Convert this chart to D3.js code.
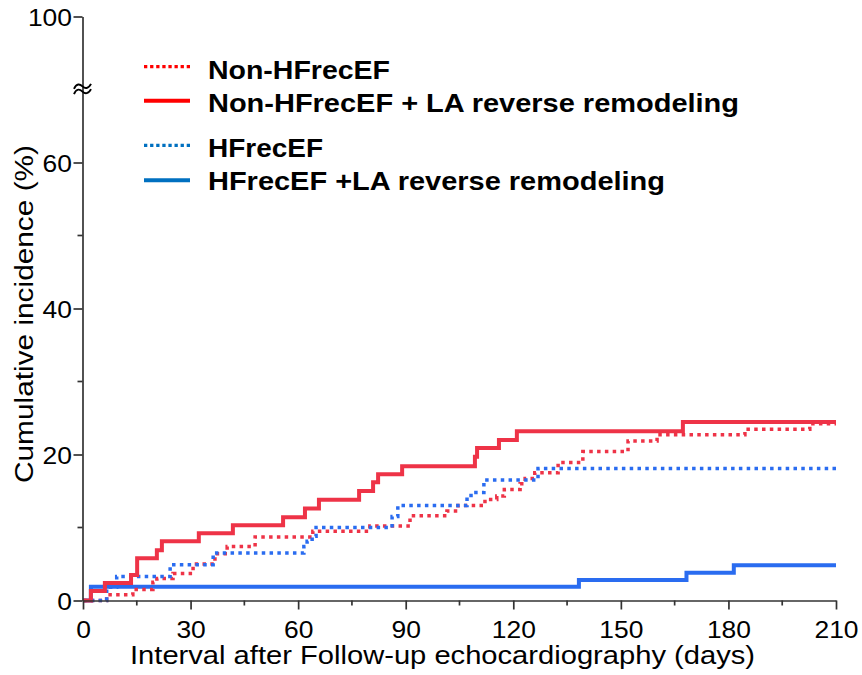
<!DOCTYPE html>
<html>
<head>
<meta charset="utf-8">
<script src="https://cdn.jsdelivr.net/npm/d3@7"></script>
<style>
  html, body { margin: 0; padding: 0; background: #fff; }
  svg { display: block; }
  text { font-family: "Liberation Sans", Arial, sans-serif; fill: #000; }
</style>
</head>
<body>
<svg id="chart" width="862" height="675"></svg>
<script>
// ---- data (days, cumulative incidence %) ----
const nonHFrecEF = [
  [0,0],[6.6,0.8],[13.9,1.5],[19.5,2.5],[20.6,3.0],[25.1,3.7],[30.7,5.0],[36.8,6.4],
  [40.2,7.4],[48.0,8.7],[64.1,9.5],[80.0,10.2],[91.2,11.6],[101.5,12.25],[104.6,13.0],
  [112.1,13.85],[115.4,14.3],[117.5,15.2],[121.9,16.0],[123.3,16.7],[126.0,17.5],
  [132.5,18.9],[139.4,20.4],[152.0,21.85],[160.1,22.7],[184.6,23.45],[202.7,24.2],[210,24.2]
];
const nonHFrecEF_LA = [
  [0,0],[2.2,1.3],[6.1,2.4],[13.4,3.5],[15.1,5.8],[20.6,6.9],[22.0,8.1],[32.3,9.2],
  [41.8,10.3],[55.8,11.4],[61.9,12.6],[65.8,13.8],[77.0,15.0],[80.9,16.2],[82.3,17.3],
  [89.0,18.4],[109.3,19.7],[109.9,20.9],[116.0,22.0],[121.0,23.2],[167.3,24.45],[210,24.45]
];
const HFrecEF = [
  [0,0],[6.6,1.8],[9.4,3.3],[24.3,4.9],[36.3,6.5],[61.6,7.4],[62.5,8.1],[63.9,8.8],
  [65.0,10.0],[86.2,11.5],[87.8,13.0],[107.1,14.4],[108.8,14.8],[111.8,16.5],[126.9,18.07],[210,18.07]
];
const HFrecEF_LA = [
  [0,0],[2.2,1.9],[138.3,2.8],[168.3,3.8],[181.5,4.84],[210,4.84]
];

const xTicks = [0,30,60,90,120,150,180,210];
const xMinorTicks = [15,45,75,105,135,165,195];
const yTicks = [0,20,40,60,80];
const yTickLabels = ["0","20","40","60","100"];
const yMinorTicks = [10,30,50];
const legendLabels = ["Non-HFrecEF","Non-HFrecEF + LA reverse remodeling","HFrecEF","HFrecEF +LA reverse remodeling"];
const xTitle = "Interval after Follow-up echocardiography (days)";
const yTitle = "Cumulative incidence (%)";

// ---- drawing ----
const svg = d3.select("#chart");
const x = d3.scaleLinear().domain([0,210]).range([83,836]);
const y = d3.scaleLinear().domain([0,80]).range([600.5,16.5]);

const red = "#ee3347", blue = "#2a6cf0";
const axisColor = "#333";

const line = d3.line().x(d => x(d[0])).y(d => y(d[1])).curve(d3.curveStepAfter);

const series = [
  {data: HFrecEF_LA, color: blue, dash: null},
  {data: nonHFrecEF, color: red, dash: "3.5,4.3"},
  {data: HFrecEF, color: blue, dash: "3.5,4.3"},
  {data: nonHFrecEF_LA, color: red, dash: null}
];
svg.append("g").selectAll("path").data(series).join("path")
  .attr("d", d => line(d.data))
  .attr("fill", "none")
  .attr("stroke", d => d.color)
  .attr("stroke-width", d => d.dash ? 3.5 : 4)
  .attr("stroke-dasharray", d => d.dash)
  .attr("stroke-linejoin", "miter");

// x axis
const gx = svg.append("g").attr("transform", `translate(0,${y(0)})`)
  .call(d3.axisBottom(x).tickValues(xTicks).tickSize(9).tickSizeOuter(0).tickFormat(d3.format("d")));
gx.select(".domain").attr("stroke", axisColor).attr("stroke-width", 1.7);
gx.selectAll(".tick line").attr("stroke", axisColor).attr("stroke-width", 1.7);
gx.selectAll(".tick text")
  .attr("y", 37).attr("dy", null)
  .style("font-size", "24.5px")
  .attr("font-family", null)
  .attr("textLength", d => String(d).length * 14.7)
  .attr("lengthAdjust", "spacingAndGlyphs");
svg.append("g").selectAll("line").data(xMinorTicks).join("line")
  .attr("x1", d => x(d)).attr("x2", d => x(d))
  .attr("y1", y(0)).attr("y2", y(0) + 5)
  .attr("stroke", axisColor).attr("stroke-width", 1.7);

// y axis
const gy = svg.append("g").attr("transform", `translate(${x(0) - 0.5},0)`)
  .call(d3.axisLeft(y).tickValues(yTicks).tickSize(9).tickSizeOuter(0)
    .tickFormat((d, i) => yTickLabels[i]));
gy.select(".domain").attr("stroke", axisColor).attr("stroke-width", 1.7);
gy.selectAll(".tick line").attr("stroke", axisColor).attr("stroke-width", 1.7);
gy.selectAll(".tick text")
  .attr("x", -10.5).attr("dy", "0.36em")
  .style("font-size", "24.5px")
  .attr("font-family", null)
  .attr("textLength", (d, i) => yTickLabels[i].length * 14.7)
  .attr("lengthAdjust", "spacingAndGlyphs");
svg.append("g").selectAll("line").data(yMinorTicks).join("line")
  .attr("x1", x(0) - 0.5).attr("x2", x(0) - 5.5)
  .attr("y1", d => y(d)).attr("y2", d => y(d))
  .attr("stroke", axisColor).attr("stroke-width", 1.7);

// axis break mark (two tildes)
const by = 89;
const bx = x(0) - 0.5;
[-2.6, 2.6].forEach(off => {
  const c = by + off;
  svg.append("path")
    .attr("d", `M${bx-8.5},${c+2.5} C${bx-6},${c-3.5} ${bx-2.5},${c-2.5} ${bx},${c} S${bx+6},${c+2.5} ${bx+8.5},${c-2.5}`)
    .attr("fill", "none").attr("stroke", "#000").attr("stroke-width", 1.9);
});

// axis titles
svg.append("text")
  .attr("x", 442.5).attr("y", 664)
  .attr("text-anchor", "middle")
  .style("font-size", "25.5px")
  .attr("textLength", 625).attr("lengthAdjust", "spacingAndGlyphs")
  .text(xTitle);
svg.append("text")
  .attr("transform", "translate(33,314) rotate(-90)")
  .attr("text-anchor", "middle")
  .style("font-size", "25px")
  .attr("textLength", 338).attr("lengthAdjust", "spacingAndGlyphs")
  .text(yTitle);

// legend
const legendColors = ["#ff0000","#ff0000","#0070c0","#0070c0"];
const legendDash = ["3.3,2.8", null, "3.3,2.8", null];
const legendLineY = [66.7, 100.7, 145.3, 180.3];
const legendTextY = [78.5, 112, 156.5, 190];
const legendTextLen = [182, 531, 115, 457];
const lg = svg.append("g");
legendLabels.forEach((lab, i) => {
  lg.append("line")
    .attr("x1", 144).attr("x2", 190)
    .attr("y1", legendLineY[i]).attr("y2", legendLineY[i])
    .attr("stroke", legendColors[i])
    .attr("stroke-width", legendDash[i] ? 3.3 : 4)
    .attr("stroke-dasharray", legendDash[i]);
  lg.append("text")
    .attr("x", 208).attr("y", legendTextY[i])
    .style("font-size", "25px").style("font-weight", "bold")
    .attr("textLength", legendTextLen[i]).attr("lengthAdjust", "spacingAndGlyphs")
    .text(lab);
});
</script>
</body>
</html>
